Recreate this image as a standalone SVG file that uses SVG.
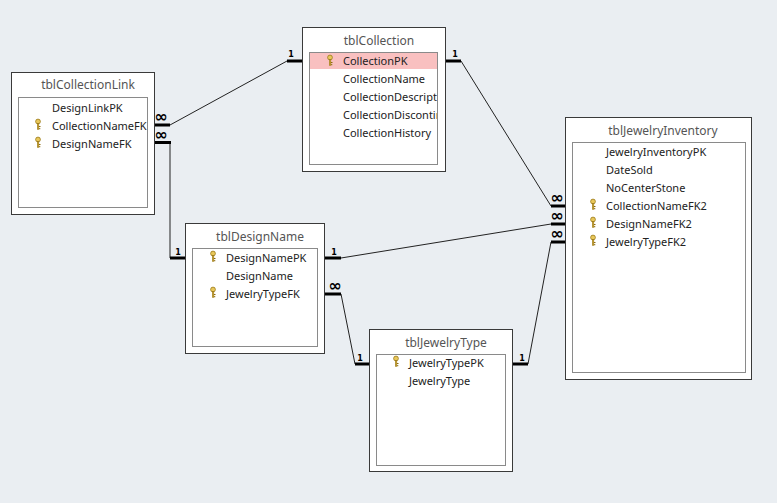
<svg xmlns="http://www.w3.org/2000/svg" width="777" height="503" viewBox="0 0 777 503">
<style>
.outer{fill:#fff;stroke:#3a3a3a;stroke-width:1}
.inner{fill:#fff;stroke:#8a8a8a;stroke-width:1}
.title{font-family:"Noto Sans","Open Sans",sans-serif;font-size:12px;fill:#555;text-anchor:middle}
.fld{font-family:"Noto Sans","Open Sans",sans-serif;font-size:11px;fill:#222}
.ln{stroke:#222;stroke-width:1;fill:none}
.thick{stroke:#000;stroke-width:3;fill:none}
.one{font-family:"DejaVu Sans",sans-serif;font-size:8px;font-weight:bold;fill:#000;text-anchor:middle}
.inf{font-family:"DejaVu Sans",sans-serif;font-size:16px;font-weight:bold;fill:#000;text-anchor:middle}
</style>
<defs>
<g id="key">
<circle cx="3" cy="2.5" r="2.4" fill="#e8c75a" stroke="#9a7a1a" stroke-width="0.8"/>
<rect x="2.2" y="4.5" width="1.7" height="6" fill="#c9a22e" stroke="#8a6a10" stroke-width="0.4"/>
<rect x="3.9" y="7" width="1.6" height="1" fill="#8a6a10"/>
<rect x="3.9" y="9.2" width="1.4" height="1" fill="#8a6a10"/>
</g>
<clipPath id="cc"><rect x="309" y="52" width="128" height="112"/></clipPath>
</defs>
<rect width="777" height="503" fill="#eaeef2"/>

<g id="connectors">
<polyline class="ln" points="170,125 287,61"/>
<polyline class="ln" points="170,142 170,258"/>
<polyline class="ln" points="461,61 551,206"/>
<polyline class="ln" points="341,258 551,224"/>
<polyline class="ln" points="341,294 355,364"/>
<polyline class="ln" points="528,364 551,242"/>
<line class="thick" x1="155" y1="125" x2="170" y2="125"/>
<line class="thick" x1="155" y1="142.5" x2="171" y2="142.5"/>
<line class="thick" x1="170" y1="258" x2="185" y2="258"/>
<line class="thick" x1="287" y1="61" x2="303" y2="61"/>
<line class="thick" x1="446" y1="61" x2="461" y2="61"/>
<line class="thick" x1="551" y1="206" x2="566" y2="206"/>
<line class="thick" x1="551" y1="224" x2="566" y2="224"/>
<line class="thick" x1="551" y1="242" x2="566" y2="242"/>
<line class="thick" x1="325" y1="258" x2="341" y2="258"/>
<line class="thick" x1="325" y1="294" x2="341" y2="294"/>
<line class="thick" x1="355" y1="364" x2="369" y2="364"/>
<line class="thick" x1="513" y1="364" x2="528" y2="364"/>
<text class="inf" x="161" y="122">∞</text>
<text class="inf" x="161" y="140">∞</text>
<text class="one" x="178" y="255">1</text>
<text class="one" x="291" y="57">1</text>
<text class="one" x="455" y="57">1</text>
<text class="inf" x="557" y="203">∞</text>
<text class="inf" x="557" y="221">∞</text>
<text class="inf" x="557" y="239">∞</text>
<text class="one" x="334" y="255">1</text>
<text class="inf" x="335" y="291">∞</text>
<text class="one" x="360" y="361">1</text>
<text class="one" x="522" y="361">1</text>
</g>

<g id="tblCollectionLink">
<rect class="outer" x="11.5" y="72.5" width="143" height="142"/>
<rect class="inner" x="18.5" y="97.5" width="129" height="110"/>
<text class="title" x="88" y="89">tblCollectionLink</text>
<text class="fld" x="52" y="112">DesignLinkPK</text>
<use href="#key" x="35" y="119"/>
<text class="fld" x="52" y="130">CollectionNameFK</text>
<use href="#key" x="35" y="137"/>
<text class="fld" x="52" y="148">DesignNameFK</text>
</g>

<g id="tblCollection">
<rect class="outer" x="302.5" y="27.5" width="143" height="144"/>
<rect class="inner" x="309.5" y="52.5" width="128" height="112"/>
<rect x="310" y="53" width="127" height="16" fill="#f9c0c0"/>
<text class="title" x="379" y="45">tblCollection</text>
<g clip-path="url(#cc)">
<use href="#key" x="327" y="55"/>
<text class="fld" x="343" y="65">CollectionPK</text>
<text class="fld" x="343" y="83">CollectionName</text>
<text class="fld" x="343" y="101">CollectionDescription</text>
<text class="fld" x="343" y="119">CollectionDiscontinued</text>
<text class="fld" x="343" y="137">CollectionHistory</text>
</g>
</g>

<g id="tblJewelryInventory">
<rect class="outer" x="565.5" y="117.5" width="186" height="262"/>
<rect class="inner" x="572.5" y="142.5" width="173" height="230"/>
<text class="title" x="663" y="135">tblJewelryInventory</text>
<text class="fld" x="606" y="156">JewelryInventoryPK</text>
<text class="fld" x="606" y="174">DateSold</text>
<text class="fld" x="606" y="192">NoCenterStone</text>
<use href="#key" x="590" y="199"/>
<text class="fld" x="606" y="210">CollectionNameFK2</text>
<use href="#key" x="590" y="217"/>
<text class="fld" x="606" y="228">DesignNameFK2</text>
<use href="#key" x="590" y="235"/>
<text class="fld" x="606" y="246">JewelryTypeFK2</text>
</g>

<g id="tblDesignName">
<rect class="outer" x="185.5" y="223.5" width="139" height="130"/>
<rect class="inner" x="192.5" y="248.5" width="125" height="98"/>
<text class="title" x="260" y="241">tblDesignName</text>
<use href="#key" x="210" y="251"/>
<text class="fld" x="226" y="262">DesignNamePK</text>
<text class="fld" x="226" y="280">DesignName</text>
<use href="#key" x="210" y="287"/>
<text class="fld" x="226" y="298">JewelryTypeFK</text>
</g>

<g id="tblJewelryType">
<rect class="outer" x="369.5" y="329.5" width="143" height="142"/>
<rect class="inner" x="376.5" y="354.5" width="129" height="111"/>
<text class="title" x="446" y="347">tblJewelryType</text>
<use href="#key" x="393" y="356"/>
<text class="fld" x="409" y="367">JewelryTypePK</text>
<text class="fld" x="409" y="385">JewelryType</text>
</g>
</svg>
